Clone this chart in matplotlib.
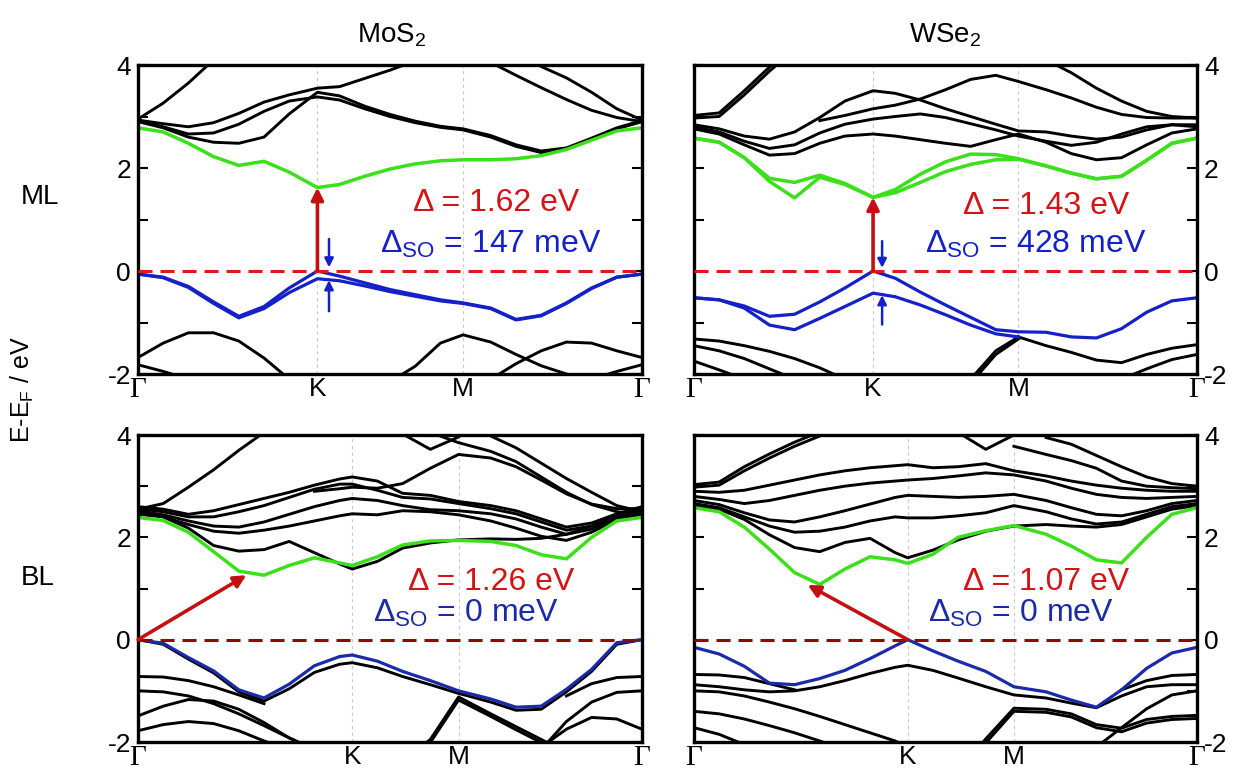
import numpy as np
import matplotlib
matplotlib.use('Agg')
import matplotlib.pyplot as plt

nan = np.nan

plt.rcParams['font.family'] = ['Liberation Sans', 'DejaVu Sans']
plt.rcParams['mathtext.fontset'] = 'custom'
plt.rcParams['mathtext.rm'] = 'Liberation Sans'
plt.rcParams['mathtext.it'] = 'Liberation Sans:italic'
plt.rcParams['axes.unicode_minus'] = False

# k-path positions (fraction of the Gamma-K-M-Gamma path)
k_ml = [0, .05, .10, .15, .20, .25, .30, .356, .40, .45, .50, .55, .60, .645, .70, .75, .80, .85, .90, .95, 1.0]
k_bl = [0, .05, .10, .15, .20, .25, .30, .35, .40, .425, .475, .525, .58, .636, .70, .75, .80, .85, .90, .95, 1.0]
ml_ticks = [0, 0.356, 0.645, 1.0]
bl_ticks = [0, 0.425, 0.636, 1.0]
tick_names = ['Γ', 'K', 'M', 'Γ']

# ---- MoS2 monolayer ----
mos2_ml_cb = [2.78, 2.70, 2.48, 2.22, 2.05, 2.13, 1.92, 1.62, 1.68, 1.84, 1.98, 2.08, 2.14, 2.16, 2.16, 2.18, 2.24, 2.36, 2.54, 2.72, 2.78]
mos2_ml_vb1 = [-0.06, -0.12, -0.30, -0.60, -0.88, -0.69, -0.33, 0.0, -0.10, -0.23, -0.36, -0.46, -0.56, -0.62, -0.72, -0.94, -0.86, -0.62, -0.33, -0.12, -0.06]
mos2_ml_vb2 = [-0.06, -0.13, -0.32, -0.63, -0.91, -0.73, -0.42, -0.15, -0.19, -0.29, -0.40, -0.49, -0.58, -0.63, -0.73, -0.95, -0.87, -0.63, -0.34, -0.12, -0.06]
mos2_ml_u1 = [2.95, 3.26, 3.65, 4.10] + [nan] * 17
mos2_ml_u2 = [2.92, 2.80, 2.66, 2.68, 2.85, 3.10, 3.30, 3.38, 3.32, 3.15, 3.00, 2.88, 2.79, 2.74, 2.60, 2.42, 2.30, 2.36, 2.56, 2.76, 2.90]
mos2_ml_u3 = [2.90, 2.78, 2.60, 2.50, 2.48, 2.60, 3.05, 3.47, 3.40, 3.20, 3.04, 2.91, 2.81, 2.76, 2.63, 2.45, 2.33, 2.39, 2.58, 2.78, 2.92]
mos2_ml_u4 = [2.93, 2.86, 2.80, 2.88, 3.06, 3.28, 3.42, 3.55, 3.58, 3.74, 3.90, 4.08, nan, nan, nan, nan, nan, nan, nan, nan, nan]
mos2_ml_u5 = [nan] * 14 + [4.05, 3.80, 3.56, 3.33, 3.12, 2.98, 2.90]
mos2_ml_u6 = [nan] * 15 + [4.25, 3.97, 3.75, 3.47, 3.15, 2.93]
mos2_ml_l1 = [-1.68, -1.40, -1.20, -1.20, -1.36, -1.69, -2.10] + [nan] * 14
mos2_ml_l2 = [-1.82, -1.95, -2.10] + [nan] * 15 + [-2.10, -1.95, -1.82]
mos2_ml_l3 = [nan] * 10 + [-2.15, -1.85, -1.40, -1.24, -1.38, -1.62, -1.84, -2.00, -2.20, nan, nan]
mos2_ml_l4 = [nan] * 14 + [-2.10, -1.80, -1.55, -1.38, -1.40, -1.55, -1.68]

# ---- WSe2 monolayer ----
wse2_ml_cb1 = [2.58, 2.50, 2.20, 1.80, 1.72, 1.86, 1.70, 1.43, 1.58, 1.88, 2.12, 2.27, 2.26, 2.18, 2.04, 1.90, 1.79, 1.84, 2.15, 2.48, 2.58]
wse2_ml_cb2 = [2.58, 2.50, 2.20, 1.74, 1.42, 1.82, 1.68, 1.43, 1.52, 1.72, 1.93, 2.07, 2.16, 2.17, 2.04, 1.90, 1.79, 1.84, 2.15, 2.48, 2.58]
wse2_ml_vb1 = [-0.52, -0.56, -0.68, -0.88, -0.84, -0.60, -0.33, 0.0, -0.14, -0.41, -0.66, -0.90, -1.14, -1.18, -1.19, -1.28, -1.30, -1.12, -0.80, -0.58, -0.52]
wse2_ml_vb2 = [-0.52, -0.56, -0.72, -1.05, -1.14, -0.92, -0.69, -0.43, -0.50, -0.66, -0.85, -1.05, -1.22, -1.28] + [nan] * 7
wse2_ml_d1 = [nan] * 13 + [-1.28, -1.45, -1.58, -1.73, -1.78, -1.62, -1.50, -1.43]
wse2_ml_d2 = [nan] * 11 + [-2.10, -1.55, -1.28] + [nan] * 7
wse2_ml_d3 = [nan] * 11 + [-2.18, -1.62, -1.32] + [nan] * 7
wse2_ml_l1 = [-1.32, -1.36, -1.45, -1.56, -1.70, -1.88, -2.10] + [nan] * 14
wse2_ml_l2 = [-1.45, -1.55, -1.70, -1.90, -2.10] + [nan] * 16
wse2_ml_l3 = [-1.75, -1.92, -2.10] + [nan] * 18
wse2_ml_l4 = [nan] * 17 + [-2.10, -1.90, -1.72, -1.62]
wse2_ml_t1 = [2.97, 3.00, 3.42, 3.88, 4.30] + [nan] * 16
wse2_ml_t2 = [3.02, 3.07, 3.50, 3.96, 4.38] + [nan] * 16
wse2_ml_b1 = [2.76, 2.66, 2.45, 2.25, 2.28, 2.48, 2.62, 2.66, 2.62, 2.55, 2.48, 2.42, 2.55, 2.66, 2.50, 2.28, 2.16, 2.20, 2.45, 2.68, 2.76]
wse2_ml_b2 = [2.80, 2.70, 2.52, 2.38, 2.45, 2.68, 2.85, 2.95, 3.00, 3.05, 2.98, 2.86, 2.74, 2.62, 2.52, 2.44, 2.50, 2.66, 2.80, 2.84, 2.80]
wse2_ml_b3 = [2.84, 2.76, 2.62, 2.56, 2.70, 2.98, 3.30, 3.50, 3.45, 3.32, 3.15, 3.00, 2.85, 2.72, 2.70, 2.62, 2.56, 2.60, 2.74, 2.84, 2.84]
wse2_ml_b4 = [nan] * 5 + [2.92, 3.02, 3.15, 3.22, 3.34, 3.52, 3.72, 3.80, 3.68, 3.52, 3.36, 3.18, 3.04, 2.98, 2.97, 2.97]
wse2_ml_b5 = [nan] * 14 + [4.10, 3.85, 3.55, 3.30, 3.10, 3.00, 2.97]

# ---- MoS2 bilayer ----
mos2_bl_cb = [2.39, 2.33, 2.10, 1.72, 1.34, 1.26, 1.45, 1.60, 1.50, 1.45, 1.62, 1.85, 1.93, 1.94, 1.92, 1.84, 1.66, 1.58, 2.00, 2.32, 2.39]
mos2_bl_vb = [0.0, -0.07, -0.35, -0.61, -0.98, -1.14, -0.87, -0.51, -0.33, -0.30, -0.42, -0.62, -0.80, -1.00, -1.16, -1.32, -1.30, -0.97, -0.58, -0.06, 0.0]
mos2_bl_vbk = [0.0, -0.09, -0.38, -0.65, -1.02, -1.20, -0.96, -0.64, -0.48, -0.45, -0.55, -0.72, -0.88, -1.05, -1.22, -1.38, -1.36, -1.02, -0.62, -0.09, 0.0]
mos2_bl_f1 = [-0.72, -0.73, -0.80, -0.92, -1.08, -1.25] + [nan] * 11 + [-1.10, -0.86, -0.74, -0.72]
mos2_bl_f2 = [-1.00, -1.02, -1.10, -1.25, -1.45, -1.68, -1.92, -2.15] + [nan] * 8 + [-2.15, -1.60, -1.22, -1.03, -1.00]
mos2_bl_d1 = [-1.49, -1.30, -1.17, -1.20, -1.36, -1.62, -1.92, -2.15] + [nan] * 13
mos2_bl_d2 = [-1.78, -1.66, -1.60, -1.64, -1.78, -1.98, -2.15] + [nan] * 14
mos2_bl_m1 = [nan] * 11 + [-2.40, -1.95, -1.12, -1.45, -1.70, -1.95, -2.20, nan, nan, nan]
mos2_bl_m2 = [nan] * 11 + [-2.46, -2.01, -1.18, -1.50, -1.76, -2.01, -2.26, nan, nan, nan]
mos2_bl_rd = [nan] * 16 + [-2.10, -1.75, -1.52, -1.55, -1.75]
mos2_bl_k1 = [2.50, 2.40, 2.18, 1.84, 1.73, 1.76, 1.92, 1.70, 1.48, 1.38, 1.53, 1.79, 1.89, 1.95, 1.97, 1.96, 1.98, 2.06, 2.22, 2.40, 2.50]
mos2_bl_k2 = [2.45, 2.40, 2.25, 2.12, 2.08, 2.14, 2.22, 2.32, 2.42, 2.46, 2.44, 2.52, 2.50, 2.44, 2.32, 2.18, 2.02, 1.94, 2.10, 2.35, 2.45]
mos2_bl_k3 = [2.52, 2.44, 2.32, 2.22, 2.20, 2.30, 2.45, 2.60, 2.72, 2.76, 2.72, 2.62, 2.54, 2.52, 2.46, 2.36, 2.20, 2.06, 2.16, 2.38, 2.52]
mos2_bl_k4 = [2.56, 2.50, 2.40, 2.40, 2.50, 2.62, 2.78, 2.94, 3.04, 3.04, 2.92, 2.78, 2.75, 2.66, 2.56, 2.46, 2.30, 2.14, 2.22, 2.42, 2.56]
mos2_bl_k5 = [2.60, 2.55, 2.45, 2.52, 2.64, 2.76, 2.88, 3.02, 3.14, 3.18, 3.10, 2.86, 2.82, 2.70, 2.62, 2.52, 2.36, 2.20, 2.28, 2.46, 2.60]
mos2_bl_k6 = [nan] * 7 + [2.90, 2.95, 2.98, 2.96, 3.05, 3.35, 3.62, 3.55, 3.38, 3.12, 2.85, 2.65, 2.56, 2.56]
mos2_bl_k7 = [2.55, 2.66, 2.98, 3.32, 3.70, 4.05] + [nan] * 15
mos2_bl_k8 = [nan] * 12 + [4.05, 3.85, 3.68, 3.48, 3.18, 2.88, 2.64, 2.50, 2.45]
mos2_bl_k9 = [nan] * 14 + [3.98, 3.75, 3.45, 3.15, 2.88, 2.62, 2.50]
mos2_bl_k10 = [nan] * 11 + [4.02, 3.72, 3.96] + [nan] * 7

# ---- WSe2 bilayer ----
wse2_bl_cb = [2.58, 2.50, 2.20, 1.77, 1.31, 1.08, 1.38, 1.62, 1.56, 1.49, 1.67, 2.00, 2.13, 2.23, 2.06, 1.83, 1.56, 1.50, 2.00, 2.45, 2.58]
wse2_bl_vb = [-0.15, -0.28, -0.52, -0.85, -0.88, -0.76, -0.60, -0.37, -0.12, 0.0, -0.22, -0.42, -0.62, -0.92, -1.02, -1.18, -1.32, -0.98, -0.56, -0.26, -0.15]
wse2_bl_vbk = [-0.88, -0.92, -0.98, -1.02, -1.00, -0.92, -0.80, -0.66, -0.54, -0.50, -0.60, -0.75, -0.92, -1.08, -1.14, -1.24, -1.33, -1.10, -0.92, -0.88, -0.88]
wse2_bl_f = [-0.68, -0.69, -0.74, -0.86, -0.98] + [nan] * 12 + [-0.98, -0.80, -0.70, -0.68]
wse2_bl_la = [-1.00, -1.02, -1.10, -1.22, -1.35, -1.50, -1.66, -1.82, -1.98, -2.10] + [nan] * 6 + [-2.10, -1.72, -1.35, -1.08, -1.00]
wse2_bl_lb = [-1.40, -1.45, -1.55, -1.68, -1.82, -1.98, -2.15] + [nan] * 14
wse2_bl_lc = [-1.72, -1.85, -2.05] + [nan] * 18
wse2_bl_m1 = [nan] * 11 + [-2.60, -1.94, -1.34, -1.36, -1.45, -1.66, -1.73, -1.56, -1.50, -1.48]
wse2_bl_m2 = [nan] * 11 + [-2.68, -2.02, -1.40, -1.42, -1.51, -1.72, -1.80, -1.63, -1.56, -1.54]
wse2_bl_u1 = [2.62, 2.55, 2.35, 2.05, 1.80, 1.72, 1.90, 1.98, 1.70, 1.60, 1.75, 1.95, 2.12, 2.22, 2.25, 2.22, 2.20, 2.25, 2.40, 2.55, 2.62]
wse2_bl_u2 = [2.66, 2.58, 2.40, 2.22, 2.10, 2.12, 2.20, 2.32, 2.40, 2.38, 2.38, 2.42, 2.48, 2.62, 2.50, 2.36, 2.26, 2.30, 2.45, 2.60, 2.66]
wse2_bl_u3 = [2.72, 2.64, 2.48, 2.34, 2.30, 2.40, 2.52, 2.65, 2.78, 2.82, 2.80, 2.78, 2.80, 2.84, 2.72, 2.58, 2.45, 2.42, 2.52, 2.66, 2.72]
wse2_bl_u4 = [2.80, 2.74, 2.66, 2.72, 2.82, 2.92, 3.00, 3.06, 3.10, 3.12, 3.15, 3.20, 3.26, 3.22, 3.10, 2.96, 2.84, 2.78, 2.76, 2.78, 2.80]
wse2_bl_u5 = [2.90, 2.88, 2.92, 3.02, 3.12, 3.22, 3.30, 3.36, 3.40, 3.42, 3.36, 3.38, 3.44, 3.30, 3.20, 3.10, 3.02, 2.96, 2.92, 2.90, 2.90]
wse2_bl_u6 = [2.98, 3.02, 3.30, 3.55, 3.78, 3.98, 4.20] + [nan] * 14
wse2_bl_u6b = [3.03, 3.08, 3.38, 3.63, 3.86, 4.06, 4.28] + [nan] * 14
wse2_bl_u7 = [nan] * 13 + [3.78, 3.62, 3.50, 3.35, 3.10, 3.00, 2.97, 2.95]
wse2_bl_u8 = [nan] * 14 + [3.95, 3.82, 3.60, 3.38, 3.18, 3.05, 3.00]
wse2_bl_u9 = [nan] * 11 + [4.05, 3.72, 4.00] + [nan] * 7

# annotation values
gaps = ['1.62', '1.43', '1.26', '1.07']
soc = ['147', '428', '0', '0']

GREEN = '#3be01a'
BLUE = '#1420c8'
BLUE_BL = '#1a2aa8'
RED = '#d41414'


def draw_panel(ax, k, black, green, blue, ticks, blue_c, zero_c):
    for b in black:
        ax.plot(k, b, color='k', lw=2.1, solid_joinstyle='round')
    for b in green:
        ax.plot(k, b, color=GREEN, lw=2.5, solid_joinstyle='round')
    for b in blue:
        ax.plot(k, b, color=blue_c, lw=2.3, solid_joinstyle='round')
    for t in ticks[1:3]:
        ax.axvline(t, color='#c8c8c8', lw=0.8, ls=(0, (3, 3)), zorder=0)
    ax.axhline(0, color=zero_c, lw=2.2, dashes=(4.6, 2.6), zorder=4)
    ax.set_xlim(0, 1)
    ax.set_ylim(-2, 4)
    ax.set_xticks(ticks)
    ax.set_xticklabels(tick_names, fontsize=19)
    for lbl in ax.get_xticklabels():
        if lbl.get_text() == 'Γ':
            lbl.set_fontfamily('Liberation Serif')
            lbl.set_fontsize(21)
    ax.tick_params(axis='x', length=0, pad=2)
    ax.set_yticks([-2, 0, 2, 4])
    ax.set_yticks([-1, 1, 3], minor=True)
    ax.tick_params(axis='y', which='both', direction='in', length=7, width=1.5,
                   left=True, right=True, labelsize=19, pad=5)
    for s in ax.spines.values():
        s.set_linewidth(2.4)


fig = plt.figure(figsize=(12.49, 7.76), dpi=100)
W, H = 1249, 776
ax_tl = fig.add_axes([138 / W, 1 - 374 / H, 504 / W, 309 / H])
ax_tr = fig.add_axes([694 / W, 1 - 374 / H, 503 / W, 309 / H])
ax_bl = fig.add_axes([138 / W, 1 - 742 / H, 504 / W, 307 / H])
ax_br = fig.add_axes([694 / W, 1 - 742 / H, 503 / W, 307 / H])

draw_panel(ax_tl, k_ml,
           [mos2_ml_u1, mos2_ml_u2, mos2_ml_u3, mos2_ml_u4, mos2_ml_u5, mos2_ml_u6,
            mos2_ml_l1, mos2_ml_l2, mos2_ml_l3, mos2_ml_l4],
           [mos2_ml_cb], [mos2_ml_vb1, mos2_ml_vb2], ml_ticks, BLUE, '#e01818')
draw_panel(ax_tr, k_ml,
           [wse2_ml_t1, wse2_ml_t2, wse2_ml_b1, wse2_ml_b2, wse2_ml_b3, wse2_ml_b4, wse2_ml_b5,
            wse2_ml_d1, wse2_ml_d2, wse2_ml_d3, wse2_ml_l1, wse2_ml_l2, wse2_ml_l3, wse2_ml_l4],
           [wse2_ml_cb1, wse2_ml_cb2], [wse2_ml_vb1, wse2_ml_vb2], ml_ticks, BLUE, '#e01818')
draw_panel(ax_bl, k_bl,
           [mos2_bl_vbk, mos2_bl_f1, mos2_bl_f2, mos2_bl_d1, mos2_bl_d2, mos2_bl_m1, mos2_bl_m2,
            mos2_bl_rd, mos2_bl_k1, mos2_bl_k2, mos2_bl_k3, mos2_bl_k4, mos2_bl_k5, mos2_bl_k6,
            mos2_bl_k7, mos2_bl_k8, mos2_bl_k9, mos2_bl_k10],
           [mos2_bl_cb], [mos2_bl_vb], bl_ticks, BLUE_BL, '#8c0a0a')
draw_panel(ax_br, k_bl,
           [wse2_bl_vbk, wse2_bl_f, wse2_bl_la, wse2_bl_lb, wse2_bl_lc, wse2_bl_m1, wse2_bl_m2,
            wse2_bl_u1, wse2_bl_u2, wse2_bl_u3, wse2_bl_u4, wse2_bl_u5, wse2_bl_u6, wse2_bl_u6b,
            wse2_bl_u7, wse2_bl_u8, wse2_bl_u9],
           [wse2_bl_cb], [wse2_bl_vb], bl_ticks, BLUE_BL, '#8c0a0a')

for ax in (ax_tr, ax_br):
    ax.yaxis.tick_right()
    ax.tick_params(axis='y', which='both', left=True, right=True)

# gap arrows
arrow_kw = dict(arrowstyle='-|>', color='#c41010', lw=2.6, mutation_scale=18, shrinkA=0, shrinkB=0)
ax_tl.annotate('', xy=(ml_ticks[1], float(gaps[0])), xytext=(ml_ticks[1], 0), arrowprops=arrow_kw, zorder=6)
ax_tr.annotate('', xy=(ml_ticks[1], float(gaps[1])), xytext=(ml_ticks[1], 0), arrowprops=arrow_kw, zorder=6)
ax_bl.annotate('', xy=(0.215, float(gaps[2])), xytext=(0, 0), arrowprops=arrow_kw, zorder=6)
ax_br.annotate('', xy=(0.226, float(gaps[3])), xytext=(bl_ticks[1], 0), arrowprops=arrow_kw, zorder=6)

# spin-orbit splitting arrows at K
so_kw = dict(arrowstyle='-|>', color=BLUE, lw=1.8, mutation_scale=13, shrinkA=0, shrinkB=0)
ax_tl.annotate('', xy=(0.379, 0.07), xytext=(0.379, 0.62), arrowprops=so_kw, zorder=6)
ax_tl.annotate('', xy=(0.379, -0.18), xytext=(0.379, -0.78), arrowprops=so_kw, zorder=6)
ax_tr.annotate('', xy=(0.374, 0.06), xytext=(0.374, 0.58), arrowprops=so_kw, zorder=6)
ax_tr.annotate('', xy=(0.374, -0.47), xytext=(0.374, -1.04), arrowprops=so_kw, zorder=6)

# gap labels
for ax, g, s, gy, sy, gx, sx, bc in [
        (ax_tl, gaps[0], soc[0], 1.33, 0.52, 0.71, 0.70, BLUE),
        (ax_tr, gaps[1], soc[1], 1.27, 0.52, 0.70, 0.68, BLUE),
        (ax_bl, gaps[2], soc[2], 1.12, 0.52, 0.70, 0.65, BLUE_BL),
        (ax_br, gaps[3], soc[3], 1.12, 0.52, 0.70, 0.65, BLUE_BL)]:
    ax.text(gx, gy, 'Δ = ' + g + ' eV', color=RED, fontsize=23, ha='center', va='center', zorder=7)
    ax.text(sx, sy, 'Δ$_{\\rm SO}$ = ' + s + ' meV', color=bc, fontsize=23, ha='center', va='center', zorder=7)

fig.text(392 / W, 1 - 35 / H, 'MoS$_2$', ha='center', va='center', fontsize=20)
fig.text(945 / W, 1 - 35 / H, 'WSe$_2$', ha='center', va='center', fontsize=20)
fig.text(40 / W, 1 - 197 / H, 'ML', ha='center', va='center', fontsize=20)
fig.text(38 / W, 1 - 578 / H, 'BL', ha='center', va='center', fontsize=20)
fig.text(22 / W, 1 - 390 / H, 'E-E$_{\\rm F}$ / eV', ha='center', va='center', fontsize=18, rotation=90)

fig.savefig('out.png', dpi=100)
